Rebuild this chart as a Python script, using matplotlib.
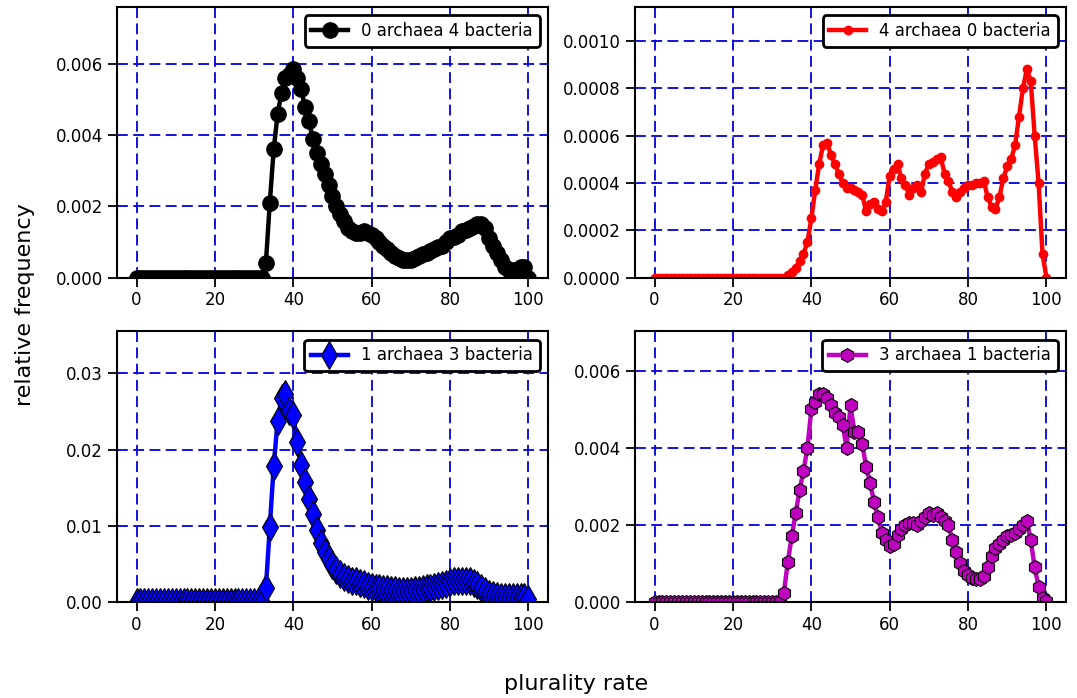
import numpy as np
import matplotlib
matplotlib.use("Agg")
import matplotlib.pyplot as plt
from matplotlib.ticker import MultipleLocator, FormatStrFormatter

x = list(range(0, 101))

zeros33 = [0.0] * 33

black_vals = zeros33 + [
    0.0004, 0.0021, 0.0036, 0.0046, 0.0052, 0.0056, 0.0057, 0.00585, 0.0056, 0.0053,
    0.0048, 0.0044, 0.0039, 0.0035, 0.0032, 0.0029, 0.0026, 0.0023, 0.0020, 0.0018,
    0.0016, 0.0014, 0.0013, 0.00125, 0.00125, 0.0013, 0.00125, 0.0012, 0.0011, 0.0010,
    0.0009, 0.0008, 0.0007, 0.0006, 0.00055, 0.0005, 0.0005, 0.0005, 0.00055, 0.0006,
    0.00065, 0.0007, 0.00075, 0.0008, 0.00085, 0.0009, 0.001, 0.0011, 0.00115, 0.0012,
    0.0013, 0.00135, 0.0014, 0.00145, 0.0015, 0.0015, 0.0014, 0.0011, 0.0009, 0.0007,
    0.0005, 0.0003, 0.0002, 0.0002, 0.0002, 0.0003, 0.0003, 0.0,
]

red_vals = zeros33 + [
    0.0, 0.00001, 0.000025, 0.00004, 0.00007, 0.0001, 0.00015, 0.00025, 0.00037, 0.00048,
    0.00056, 0.00057, 0.00052, 0.00048, 0.00044, 0.0004, 0.00038, 0.00038, 0.00037, 0.00036,
    0.00035, 0.00028, 0.00031, 0.00032, 0.00029, 0.00028, 0.00032, 0.00043, 0.00046, 0.00048,
    0.00042, 0.00039, 0.00035, 0.00038, 0.00039, 0.00036, 0.00044, 0.00048, 0.00049, 0.0005,
    0.00051, 0.00044, 0.00041, 0.00036, 0.00034, 0.00036, 0.00038, 0.00039, 0.00039, 0.0004,
    0.0004, 0.00041, 0.00034, 0.0003, 0.00029, 0.00034, 0.00042, 0.00047, 0.0005, 0.00056,
    0.00068, 0.0008, 0.00088, 0.00083, 0.0006, 0.0004, 0.0001, 0.0,
]

blue_vals = zeros33 + [
    0.0018, 0.0098, 0.0178, 0.0238, 0.0267, 0.0273, 0.0250, 0.0245, 0.0210, 0.0180,
    0.0158, 0.0135, 0.0115, 0.0095, 0.0078, 0.0065, 0.0056, 0.0048, 0.0042, 0.0037,
    0.0033, 0.0030, 0.0028, 0.0027, 0.0025, 0.0023, 0.0021, 0.0020, 0.0019, 0.0018,
    0.0017, 0.0017, 0.0016, 0.0016, 0.0015, 0.0015, 0.0015, 0.0015, 0.0016, 0.0016,
    0.0017, 0.0018, 0.0019, 0.0020, 0.0021, 0.0022, 0.0024, 0.0026, 0.0027, 0.0028,
    0.0028, 0.0028, 0.0027, 0.0025, 0.0022, 0.0018, 0.0014, 0.0011, 0.0009, 0.0008,
    0.0007, 0.0007, 0.0006, 0.0006, 0.0006, 0.0006, 0.0006, 0.0004,
]

magenta_vals = zeros33 + [
    0.00024, 0.00104, 0.0017, 0.0023, 0.0029, 0.0034, 0.0040, 0.0050, 0.0052, 0.0054,
    0.0054, 0.0053, 0.0051, 0.0049, 0.0048, 0.0046, 0.0040, 0.0051, 0.0044, 0.0044,
    0.0041, 0.0035, 0.0031, 0.0026, 0.0022, 0.0018, 0.0016, 0.00145, 0.0015, 0.00175,
    0.0019, 0.0020, 0.00205, 0.00205, 0.0020, 0.0021, 0.0022, 0.0023, 0.00225, 0.0023,
    0.0022, 0.0021, 0.0020, 0.0016, 0.0013, 0.0010, 0.0008, 0.0007, 0.00063, 0.0006,
    0.0006, 0.00068, 0.0009, 0.0012, 0.0014, 0.0015, 0.0016, 0.0017, 0.00175, 0.0018,
    0.0019, 0.0020, 0.0021, 0.0016, 0.0009, 0.0004, 0.0001, 0.00003,
]

labels = ["0 archaea 4 bacteria", "4 archaea 0 bacteria",
          "1 archaea 3 bacteria", "3 archaea 1 bacteria"]
xticks = [0, 20, 40, 60, 80, 100]

fig, axes = plt.subplots(2, 2, figsize=(10.77, 6.98), dpi=100)
fig.subplots_adjust(left=0.1086, right=0.9898, top=0.99, bottom=0.1375,
                    wspace=0.2019, hspace=0.199)

specs = [
    (axes[0, 0], black_vals, labels[0], dict(color='k', marker='o', markersize=11,
                                             markeredgecolor='k', markeredgewidth=1), 0.002, '%.3f'),
    (axes[0, 1], red_vals, labels[1], dict(color='r', marker='o', markersize=6,
                                           markeredgecolor='r', markeredgewidth=1), 0.0002, '%.4f'),
    (axes[1, 0], blue_vals, labels[2], dict(color='b', marker='d', markersize=14,
                                            markeredgecolor='k', markeredgewidth=0.8), 0.01, '%.2f'),
    (axes[1, 1], magenta_vals, labels[3], dict(color='m', marker='h', markersize=10,
                                               markeredgecolor='k', markeredgewidth=0.8), 0.002, '%.3f'),
]

for ax, vals, lab, style, step, fmt in specs:
    ax.plot(x, vals, linewidth=3.2, label=lab, **style)
    ax.set_xlim(-5, 105)
    ax.set_ylim(0, 1.3 * max(vals))
    ax.set_xticks(xticks)
    ax.yaxis.set_major_locator(MultipleLocator(step))
    ax.yaxis.set_major_formatter(FormatStrFormatter(fmt))
    ax.grid(True, color='#0000dd', linestyle=(0, (6, 3)), linewidth=1.3)
    ax.tick_params(direction='out', length=6.5, width=1.3, labelsize=12, colors='k',
                   top=False, right=False)
    for sp in ax.spines.values():
        sp.set_linewidth(1.5)
        sp.set_color('k')
    leg = ax.legend(loc='upper right', fontsize=12, numpoints=1, fancybox=True,
                    framealpha=1, handlelength=2.2)
    leg.get_frame().set_edgecolor('k')
    leg.get_frame().set_linewidth(2)

fig.text(0.023, 0.563, 'relative frequency', rotation=90, ha='center', va='center', fontsize=16)
fig.text(0.535, 0.02, 'plurality rate', ha='center', va='center', fontsize=16)

fig.savefig('out.png', dpi=100)
